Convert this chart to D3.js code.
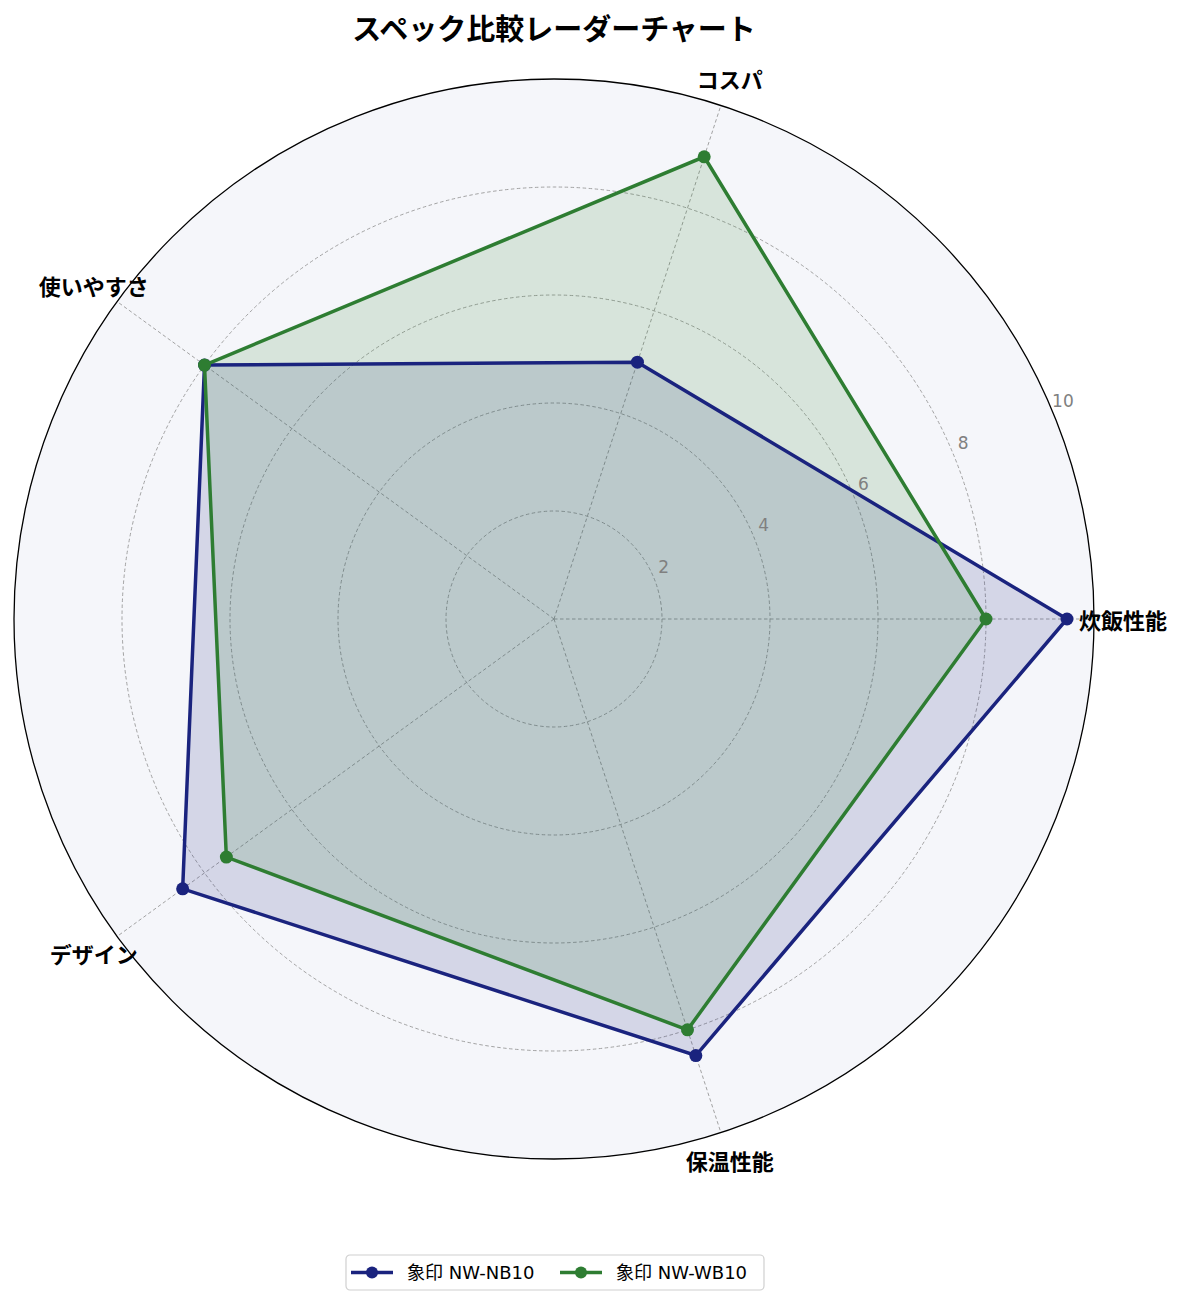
<!DOCTYPE html>
<html>
<head>
<meta charset="utf-8">
<script src="https://cdn.jsdelivr.net/npm/d3@7"></script>
<style>
    body { margin: 0; background: #ffffff; }
    text { font-family: "Noto Sans CJK JP", "Noto Sans", sans-serif; }
    .latin { font-family: "DejaVu Sans", "Noto Sans CJK JP", sans-serif; }
</style>
</head>
<body>
<script>
const categories = ['炊飯性能', 'コスパ', '使いやすさ', 'デザイン', '保温性能'];
const seriesNames = ['象印 NW-NB10', '象印 NW-WB10'];
const seriesColors = ['#1a237e', '#2e7d32'];
const valuesNB10 = [9.5, 5.0, 8.0, 8.5, 8.5];
const valuesWB10 = [8.0, 9.0, 8.0, 7.5, 8.0];
const radialTicks = [2, 4, 6, 8, 10];

drawRadar();

function drawRadar()
{
    const width = 1185;
    const height = 1304;
    const cx = 554;
    const cy = 619;
    const radius = 540;

    const svg = d3.select('body')
        .append('svg')
        .attr('width', width)
        .attr('height', height);

    const r = d3.scaleLinear().domain([0, 10]).range([0, radius]);
    const angle = d3.scaleLinear().domain([0, categories.length]).range([0, 2 * Math.PI]);

    // screen coordinates: 0 rad to the right, counter-clockwise
    const px = (a, v) => cx + r(v) * Math.cos(a);
    const py = (a, v) => cy - r(v) * Math.sin(a);

    const g = svg.append('g');

    g.append('circle')
        .attr('cx', cx).attr('cy', cy).attr('r', radius)
        .attr('fill', '#f5f6fa');

    // radial grid circles
    g.selectAll('circle.grid')
        .data(radialTicks.slice(0, -1))
        .enter()
        .append('circle')
        .attr('class', 'grid')
        .attr('cx', cx).attr('cy', cy)
        .attr('r', d => r(d))
        .attr('fill', 'none')
        .attr('stroke', '#999')
        .attr('stroke-width', 0.9)
        .attr('stroke-dasharray', '3.5,2.5');

    // spokes
    g.selectAll('line.spoke')
        .data(categories)
        .enter()
        .append('line')
        .attr('class', 'spoke')
        .attr('x1', cx).attr('y1', cy)
        .attr('x2', (d, i) => px(angle(i), 10))
        .attr('y2', (d, i) => py(angle(i), 10))
        .attr('stroke', '#999')
        .attr('stroke-width', 0.9)
        .attr('stroke-dasharray', '3.5,2.5');

    const allSeries = [valuesNB10, valuesWB10];

    const lineGen = d3.line()
        .x((d, i) => px(angle(i), d))
        .y((d, i) => py(angle(i), d))
        .curve(d3.curveLinearClosed);

    // fills first
    g.selectAll('path.area')
        .data(allSeries)
        .enter()
        .append('path')
        .attr('class', 'area')
        .attr('d', d => lineGen(d))
        .attr('fill', (d, i) => seriesColors[i])
        .attr('fill-opacity', 0.15)
        .attr('stroke', 'none');

    allSeries.forEach((vals, s) =>
    {
        g.append('path')
            .attr('d', lineGen(vals))
            .attr('fill', 'none')
            .attr('stroke', seriesColors[s])
            .attr('stroke-width', 3.5)
            .attr('stroke-linejoin', 'miter');

        g.selectAll(null)
            .data(vals)
            .enter()
            .append('circle')
            .attr('cx', (d, i) => px(angle(i), d))
            .attr('cy', (d, i) => py(angle(i), d))
            .attr('r', 6.5)
            .attr('fill', seriesColors[s]);
    });

    // outer frame
    g.append('circle')
        .attr('cx', cx).attr('cy', cy).attr('r', radius)
        .attr('fill', 'none')
        .attr('stroke', '#000')
        .attr('stroke-width', 1.3);

    // radial tick labels
    const labelAngle = 22.5 * Math.PI / 180;
    g.selectAll('text.rtick')
        .data(radialTicks)
        .enter()
        .append('text')
        .attr('class', 'rtick latin')
        .attr('x', d => px(labelAngle, d) + 10)
        .attr('y', d => py(labelAngle, d) - 11)
        .attr('text-anchor', 'middle')
        .attr('dominant-baseline', 'central')
        .attr('font-size', 17)
        .attr('fill', '#808080')
        .text(d => d);

    // category labels
    g.selectAll('text.cat')
        .data(categories)
        .enter()
        .append('text')
        .attr('class', 'cat')
        .attr('x', (d, i) => cx + 569 * Math.cos(angle(i)))
        .attr('y', (d, i) => cy - 569 * Math.sin(angle(i)))
        .attr('text-anchor', 'middle')
        .attr('dominant-baseline', 'central')
        .attr('font-size', 22)
        .attr('font-weight', 'bold')
        .attr('fill', '#000')
        .text(d => d);

    // title
    svg.append('text')
        .attr('x', cx)
        .attr('y', 27)
        .attr('text-anchor', 'middle')
        .attr('dominant-baseline', 'central')
        .attr('font-size', 29)
        .attr('font-weight', 'bold')
        .text('スペック比較レーダーチャート');

    // legend
    const legend = svg.append('g').attr('transform', 'translate(346, 1255)');
    legend.append('rect')
        .attr('x', 0).attr('y', 0)
        .attr('width', 418).attr('height', 35)
        .attr('rx', 4)
        .attr('fill', '#fff')
        .attr('stroke', '#d0d0d0')
        .attr('stroke-width', 1.2);

    const itemX = [5, 214];
    seriesNames.forEach((name, i) =>
    {
        const item = legend.append('g').attr('transform', `translate(${itemX[i]}, 17.5)`);
        item.append('line')
            .attr('x1', 0).attr('x2', 42)
            .attr('stroke', seriesColors[i])
            .attr('stroke-width', 3.5);
        item.append('circle')
            .attr('cx', 21).attr('r', 6)
            .attr('fill', seriesColors[i]);
        item.append('text')
            .attr('class', 'latin')
            .attr('x', 56)
            .attr('dominant-baseline', 'central')
            .attr('font-size', 18)
            .text(name);
    });
}
</script>
</body>
</html>
